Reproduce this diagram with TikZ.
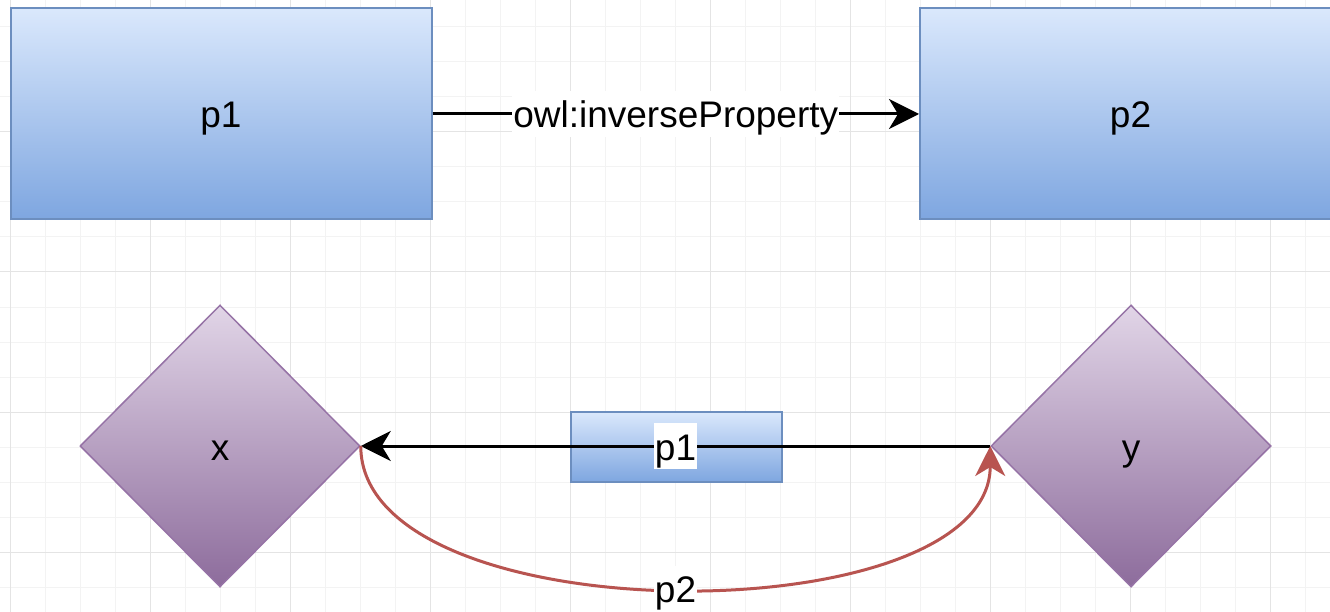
\documentclass[tikz,border=0pt]{standalone}
\usepackage{xcolor}
\usepackage{tikz}
\usepackage{fontspec}
\setmainfont{Liberation Sans}
\usetikzlibrary{shapes.geometric, arrows.meta}

\definecolor{blueTop}{RGB}{218,232,252}
\definecolor{blueBottom}{RGB}{126,166,224}
\definecolor{blueLine}{RGB}{108,142,191}
\definecolor{purpleTop}{RGB}{225,213,231}
\definecolor{purpleBottom}{RGB}{141,108,156}
\definecolor{purpleLine}{RGB}{150,115,166}
\definecolor{redLine}{RGB}{184,84,80}
\definecolor{gridMinor}{RGB}{243,243,243}
\definecolor{gridMajor}{RGB}{228,228,228}

\begin{document}
\begin{tikzpicture}[
  x=1pt, y=-1pt,
  every node/.style={font=\fontsize{37}{44}\selectfont, inner sep=0pt, text height=36pt, text depth=8pt},
  prop/.style={draw=blueLine, line width=2pt, top color=blueTop, bottom color=blueBottom, minimum width=421pt, minimum height=211pt},
  smallprop/.style={prop, minimum width=211pt, minimum height=70pt},
  thing/.style={diamond, draw=purpleLine, line width=1.5pt, top color=purpleTop, bottom color=purpleBottom, minimum width=280pt, minimum height=282pt},
  lbl/.style={fill=white, inner sep=1pt},
  link/.style={line width=3pt, -{Stealth[length=30pt, width=30pt, inset=9pt]}},
  redlink/.style={link, draw=redLine}
]
\useasboundingbox (0,0) rectangle (1330,612);
\clip (0,0) rectangle (1330,612);
\fill[white] (0,0) rectangle (1330,612);
% grid
\foreach \gx in {10,45,...,1340} \draw[gridMinor, line width=1pt] (\gx,0) -- (\gx,612);
\foreach \gy in {-8,27,...,620} \draw[gridMinor, line width=1pt] (0,\gy) -- (1330,\gy);
\foreach \gx in {10,150,...,1340} \draw[gridMajor, line width=1pt] (\gx,0) -- (\gx,612);
\foreach \gy in {-8,132,...,620} \draw[gridMajor, line width=1pt] (0,\gy) -- (1330,\gy);

\node[prop] (p1) at (221,114) {p1};
\node[prop] (p2) at (1130.5,114) {p2};
\node[thing] (x) at (220,446) {x};
\node[thing] (y) at (1131,446) {y};
\node[smallprop] (mid) at (676,447) {};

\draw[link] (p1) -- node[lbl] {owl:inverseProperty} (p2);
\draw[link] (y.west) -- node[lbl] {p1} (x.east);
\draw[redlink] (x.east) .. controls +(0,190) and +(0,190) .. node[lbl] {p2} (y.west);
\end{tikzpicture}
\end{document}
